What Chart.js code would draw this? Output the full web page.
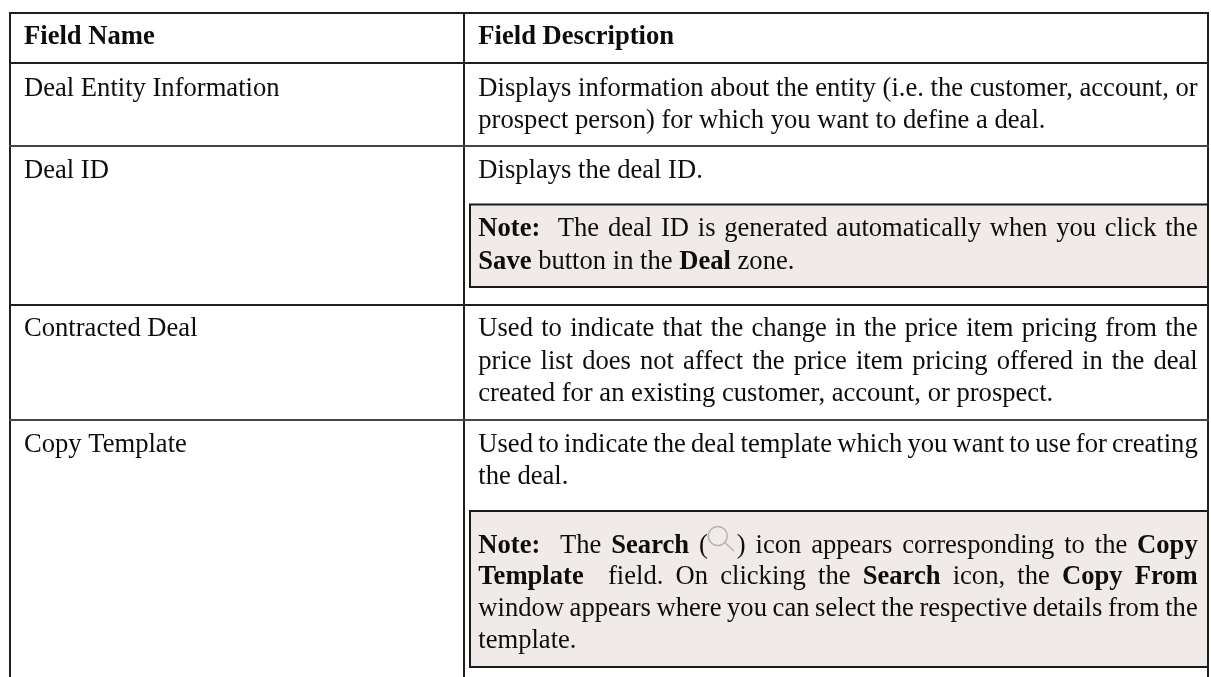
<!DOCTYPE html>
<html>
<head>
<meta charset="utf-8">
<style>html,body{margin:0;padding:0;background:#fff}canvas{display:block}</style>
<script src="https://cdn.jsdelivr.net/npm/chart.js@4"></script>
</head>
<body>
<canvas id="c" width="1211" height="677"></canvas>
<script>
// Table content. **x** marks a bold run, {icon} the inline search icon.
const headers = ["Field Name", "Field Description"];
const fieldNames = ["Deal Entity Information", "Deal ID", "Contracted Deal", "Copy Template"];
const description1 = ["Displays information about the entity (i.e. the customer, account, or", "prospect person) for which you want to define a deal."];
const description2 = ["Displays the deal ID."];
const note2 = ["**Note:**  The deal ID is generated automatically when you click the", "**Save** button in the **Deal** zone."];
const description3 = ["Used to indicate that the change in the price item pricing from the", "price list does not affect the price item pricing offered in the deal", "created for an existing customer, account, or prospect."];
const description4 = ["Used to indicate the deal template which you want to use for creating", "the deal."];
const note4 = ["**Note:**  The **Search** ({icon}) icon appears corresponding to the **Copy**", "**Template**  field. On clicking the **Search** icon, the **Copy From**", "window appears where you can select the respective details from the", "template."];

// Layout of the table, in page pixels, mapped through the chart's scales.
const columnLines = [10, 464, 1208];
const rowLines = [13, 63, 146, 305, 420];
const nameX = 24, descX = 478.3, descRight = 1197.7;
const noteBoxes = [[470, 204.5, 287], [470, 511, 667]];
const placements = [
  [headers.slice(0, 1), nameX, [44], "bold"],
  [headers.slice(1), descX, [44], "bold"],
  [[fieldNames[0]], nameX, [96]],
  [[fieldNames[1]], nameX, [178]],
  [[fieldNames[2]], nameX, [336]],
  [[fieldNames[3]], nameX, [452]],
  [description1, descX, [96, 128]],
  [description2, descX, [178]],
  [note2, descX, [236, 269]],
  [description3, descX, [336, 369, 401]],
  [description4, descX, [452, 484]],
  [note4, descX, [553, 584, 616, 648]]
];
const FONT_PX = 26.6;
const ICON_W = 29;
const fontOf = bold => (bold ? "bold " : "") + FONT_PX + 'px "Liberation Serif"';

function parseRuns(line, forceBold) {
  const runs = [];
  line.split(/(\*\*.+?\*\*|\{icon\})/).forEach(p => {
    if (!p) return;
    if (p === "{icon}") runs.push({icon: true});
    else if (p.startsWith("**")) runs.push({text: p.slice(2, -2), bold: true});
    else runs.push({text: p, bold: !!forceBold});
  });
  return runs;
}
function drawLine(ctx, x, scales, y, runs, right) {
  let natural = 0, spaces = 0;
  runs.forEach(r => {
    if (r.icon) { natural += ICON_W; return; }
    ctx.font = fontOf(r.bold);
    natural += ctx.measureText(r.text).width;
    spaces += (r.text.match(/ /g) || []).length;
  });
  const extra = right !== null && spaces ? (right - x - natural) / spaces : 0;
  let cx = x;
  const py = scales.y.getPixelForValue(y);
  runs.forEach(r => {
    if (r.icon) {
      ctx.save();
      ctx.strokeStyle = "#b4b4b4";
      ctx.lineWidth = 1.6;
      const ix = scales.x.getPixelForValue(cx);
      ctx.beginPath();
      ctx.arc(ix + 10, py - 17, 9.5, 0, Math.PI * 2);
      ctx.moveTo(ix + 17, py - 10.5);
      ctx.lineTo(ix + 26, py - 2);
      ctx.stroke();
      ctx.restore();
      cx += ICON_W;
      return;
    }
    ctx.font = fontOf(r.bold);
    const spaceW = ctx.measureText(" ").width + extra;
    r.text.split(" ").forEach((word, i) => {
      if (i > 0) cx += spaceW;
      if (word) {
        ctx.fillText(word, scales.x.getPixelForValue(cx), py);
        cx += ctx.measureText(word).width;
      }
    });
  });
}

const tablePlugin = {
  id: "table",
  beforeDatasetsDraw(chart) {
    const {ctx, scales} = chart;
    ctx.save();
    noteBoxes.forEach(([l, t, b]) => {
      const x0 = scales.x.getPixelForValue(l), x1 = scales.x.getPixelForValue(columnLines[2]);
      const y0 = scales.y.getPixelForValue(t), y1 = scales.y.getPixelForValue(b);
      ctx.fillStyle = "#f0ebe9";
      ctx.fillRect(x0, y0, x1 - x0, y1 - y0);
      ctx.strokeStyle = "#1a1a1a";
      ctx.lineWidth = 2;
      ctx.strokeRect(x0, y0, x1 - x0, y1 - y0);
    });
    ctx.restore();
  },
  afterDraw(chart) {
    const {ctx, scales} = chart;
    ctx.save();
    ctx.fillStyle = "#0d0d0d";
    ctx.textBaseline = "alphabetic";
    ctx.textAlign = "left";
    placements.forEach(([lines, x, ys, weight]) => {
      lines.forEach((line, i) => {
        const last = i === lines.length - 1;
        const justify = x === descX && !last;
        drawLine(ctx, x, scales, ys[i], parseRuns(line, weight === "bold"), justify ? descRight : null);
      });
    });
    ctx.restore();
  }
};

new Chart(document.getElementById("c"), {
  type: "scatter",
  data: {datasets: [{data: []}]},
  plugins: [tablePlugin],
  options: {
    responsive: false,
    animation: false,
    layout: {padding: {left: 9, top: 12, right: 2, bottom: 0}},
    plugins: {legend: {display: false}, tooltip: {enabled: false}},
    scales: {
      x: {
        type: "linear", min: 9, max: 1209,
        afterBuildTicks: s => { s.ticks = columnLines.map(v => ({value: v})); },
        ticks: {display: false},
        border: {display: false},
        grid: {color: "#1f1f1f", lineWidth: 2, drawTicks: false}
      },
      y: {
        type: "linear", reverse: true, min: 12, max: 677,
        afterBuildTicks: s => { s.ticks = rowLines.map(v => ({value: v})); },
        ticks: {display: false},
        border: {display: false},
        grid: {color: c => (c.tick && (c.tick.value === 146 || c.tick.value === 420)) ? "#454545" : "#1f1f1f", lineWidth: 2, drawTicks: false}
      }
    }
  }
});
</script>
</body>
</html>
